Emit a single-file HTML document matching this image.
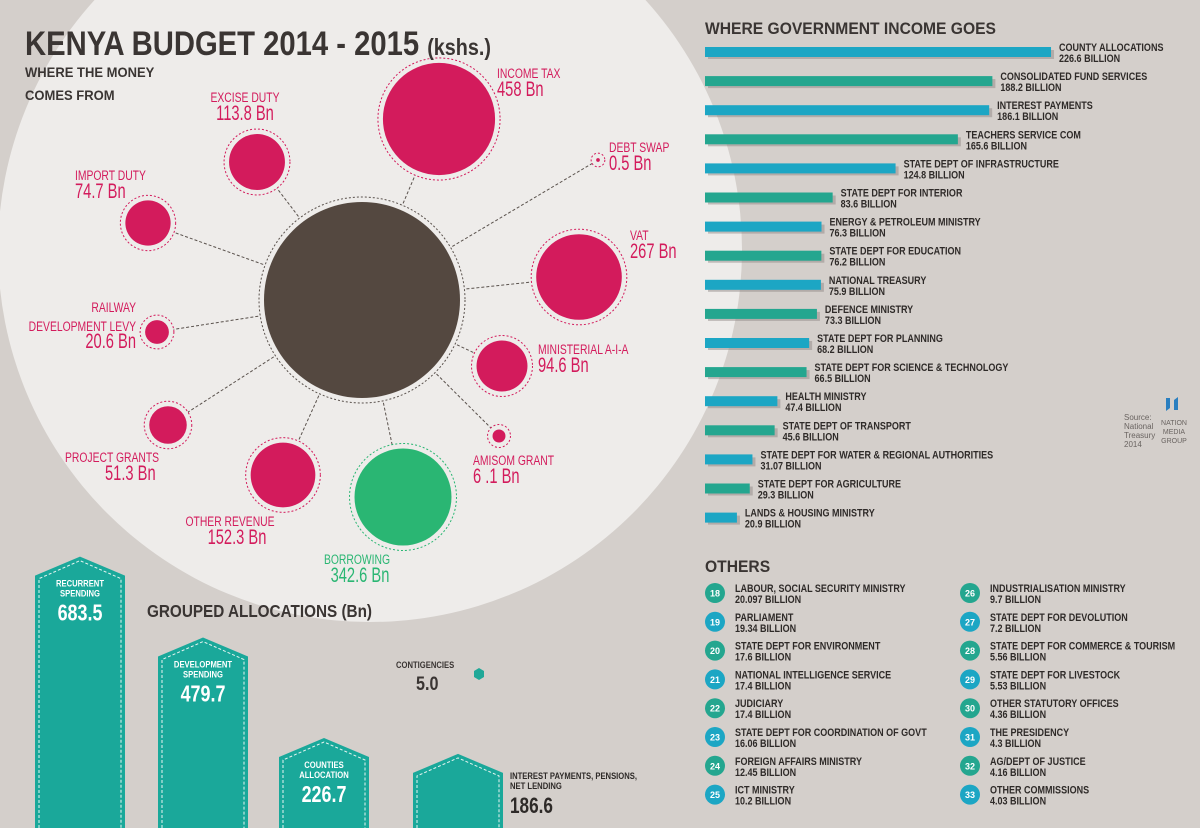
<!DOCTYPE html>
<html><head><meta charset="utf-8"><style>
html,body{margin:0;padding:0;background:#d4cfcb;}
svg{display:block;font-family:"Liberation Sans Narrow","Liberation Sans",sans-serif;}
.b{font-weight:bold;}
</style></head><body>
<svg id="chart" width="1200" height="828" viewBox="0 0 1200 828" xmlns="http://www.w3.org/2000/svg">
<rect x="0" y="0" width="1200" height="828" fill="#d4cfcb"/>
<circle cx="370" cy="250" r="372" fill="#eeecea"/>
<g id="lines"></g><g id="bubbles"></g>
<g transform="translate(25,55) scale(0.86,1)"><text x="0" y="0" class="b" font-size="34" fill="#3a3533">KENYA BUDGET 2014 - 2015 <tspan font-size="23">(kshs.)</tspan></text></g>
<g transform="translate(25,77) scale(0.93,1)"><text x="0" y="0" class="b" font-size="14" fill="#3a3533">WHERE THE MONEY</text></g>
<g transform="translate(25,100) scale(0.93,1)"><text x="0" y="0" class="b" font-size="14" fill="#3a3533">COMES FROM</text></g>
<g transform="translate(705,34) scale(0.92,1)"><text x="0" y="0" class="b" font-size="17" fill="#3a3533">WHERE GOVERNMENT INCOME GOES</text></g>
<g id="bars"></g>
<g transform="translate(705,572) scale(0.92,1)"><text x="0" y="0" class="b" font-size="17" fill="#3a3533">OTHERS</text></g>
<g id="others"></g>
<text font-size="8" fill="#6a6461"><tspan x="1124" y="420">Source:</tspan><tspan x="1124" y="429">National</tspan><tspan x="1124" y="438">Treasury</tspan><tspan x="1124" y="447">2014</tspan></text>
<g><path d="M1166 398 l4 0 l0 10 l-4 3z M1174 400 l4 -3 l0 13 l-4 0z" fill="#2a7fc0"/>
<text x="1174" y="425" font-size="7" fill="#6a6461" text-anchor="middle">NATION</text><text x="1174" y="434" font-size="7" fill="#6a6461" text-anchor="middle">MEDIA</text><text x="1174" y="443" font-size="7" fill="#6a6461" text-anchor="middle">GROUP</text></g>
<g transform="translate(147,617) scale(0.85,1)"><text x="0" y="0" class="b" font-size="18" fill="#3a3533">GROUPED ALLOCATIONS  (Bn)</text></g>
<g id="grouped"></g>
<g transform="translate(396,668) scale(0.85,1)"><text x="0" y="0" class="b" font-size="9" fill="#3a3533">CONTIGENCIES</text></g>
<g transform="translate(416,690) scale(0.85,1)"><text x="0" y="0" class="b" font-size="19" fill="#3a3533">5.0</text></g>
<polygon points="479,668 484,671 484,677 479,680 474,677 474,671" fill="#20a898"/>
</svg>
<script>
// Revenue sources (Bn)
const srcNames = ["INCOME TAX","EXCISE DUTY","IMPORT DUTY","RAILWAY DEVELOPMENT LEVY","PROJECT GRANTS","OTHER REVENUE","BORROWING","AMISOM GRANT","MINISTERIAL A-I-A","VAT","DEBT SWAP"];
const srcValues = [458,113.8,74.7,20.6,51.3,152.3,342.6,6.1,94.6,267,0.5];
const srcLabels = ["458 Bn","113.8 Bn","74.7 Bn","20.6 Bn","51.3 Bn","152.3 Bn","342.6 Bn","6 .1 Bn","94.6 Bn","267 Bn","0.5 Bn"];
// Spending bars (Bn)
const barNames = ["COUNTY ALLOCATIONS","CONSOLIDATED FUND SERVICES","INTEREST PAYMENTS","TEACHERS SERVICE COM","STATE DEPT OF INFRASTRUCTURE","STATE DEPT FOR INTERIOR","ENERGY & PETROLEUM MINISTRY","STATE DEPT FOR EDUCATION","NATIONAL TREASURY","DEFENCE MINISTRY","STATE DEPT FOR PLANNING","STATE DEPT FOR SCIENCE & TECHNOLOGY","HEALTH MINISTRY","STATE DEPT OF TRANSPORT","STATE DEPT FOR WATER & REGIONAL AUTHORITIES","STATE DEPT FOR AGRICULTURE","LANDS & HOUSING MINISTRY"];
const barValues = [226.6,188.2,186.1,165.6,124.8,83.6,76.3,76.2,75.9,73.3,68.2,66.5,47.4,45.6,31.07,29.3,20.9];
// Others list
const otherNames = ["LABOUR, SOCIAL SECURITY MINISTRY","PARLIAMENT","STATE DEPT FOR ENVIRONMENT","NATIONAL INTELLIGENCE SERVICE","JUDICIARY","STATE DEPT FOR COORDINATION OF GOVT","FOREIGN AFFAIRS MINISTRY","ICT MINISTRY","INDUSTRIALISATION MINISTRY","STATE DEPT FOR DEVOLUTION","STATE DEPT FOR COMMERCE & TOURISM","STATE DEPT FOR LIVESTOCK","OTHER STATUTORY OFFICES","THE PRESIDENCY","AG/DEPT OF JUSTICE","OTHER COMMISSIONS"];
const otherValues = ["20.097","19.34","17.6","17.4","17.4","16.06","12.45","10.2","9.7","7.2","5.56","5.53","4.36","4.3","4.16","4.03"];
// Grouped allocations (Bn)
const groupNames = [["RECURRENT","SPENDING"],["DEVELOPMENT","SPENDING"],["COUNTIES","ALLOCATION"],["INTEREST PAYMENTS, PENSIONS,","NET LENDING"]];
const groupValues = [683.5,479.7,226.7,186.6];

const NS="http://www.w3.org/2000/svg";
function mk(tag,attrs,parent,txt){const e=document.createElementNS(NS,tag);for(const k in attrs)e.setAttribute(k,attrs[k]);if(txt!==undefined)e.textContent=txt;parent.appendChild(e);return e;}
function tx(parent,x,y,s,size,fill,anchor,sx,bold){
  const g=mk('g',{transform:`translate(${x},${y}) scale(${sx},1)`},parent);
  const a={x:0,y:0,'font-size':size,fill:fill,'text-anchor':anchor||'start'};
  if(bold)a['font-weight']='bold';
  return mk('text',a,g,s);
}
const rScale=v=>2.62*Math.sqrt(v);

// layout (centres only)
const C={x:362,y:300,r:98};
const pos=[[439,119],[257,162],[148,223],[157,332],[168,425],[283,475],[403,497],[499,436],[502,366],[579,277],[598,160]];
const lab=[[497,78,"start"],[245,102,"middle"],[75,180,"start"],[136,312,"end"],[65,462,"start"],[230,526,"middle"],[357,564,"middle"],[473,465,"start"],[538,354,"start"],[630,240,"start"],[609,152,"start"]];
const gL=document.getElementById('lines'),gB=document.getElementById('bubbles');
srcValues.forEach((v,i)=>{
  const [x,y]=pos[i];
  const l=mk('line',{x1:C.x,y1:C.y,x2:x,y2:y,stroke:'#5a524d','stroke-width':1,'stroke-dasharray':'3 2'},gL);
  
  
});
const dk=mk('circle',{cx:C.x,cy:C.y,r:C.r+5,fill:'#eeecea',stroke:'#5a524d','stroke-dasharray':'2 2'},gB);


const dc=mk('circle',{cx:C.x,cy:C.y,r:C.r,fill:'#544840'},gB);


const LS=0.74, VS=0.7;
srcValues.forEach((v,i)=>{
  const [x,y]=pos[i];const r=rScale(v);const col=i===6?'#2ab673':'#d31b5c';
  const g=mk('g',{},gB);
  
  
  mk('circle',{cx:x,cy:y,r:r+5,fill:'#eeecea',stroke:col,'stroke-width':1,'stroke-dasharray':'2 2'},g);
  mk('circle',{cx:x,cy:y,r:r,fill:col},g);
  const [lx,ly,an]=lab[i];
  const t=mk('g',{},gB);
  
  
  if(i===3){
    tx(t,lx,ly,'RAILWAY',14,col,'end',LS);
    tx(t,lx,ly+19,'DEVELOPMENT LEVY',14,col,'end',LS);
    tx(t,lx,ly+36,srcLabels[i],21,col,'end',VS);
  } else {
    tx(t,lx,ly,srcNames[i],14,col,an,LS);
    tx(t,lx+(i===4?40:(i===6?3:(i===5?7:0))),ly+18,srcLabels[i],21,col,an,VS);
  }
});

// bars
const gBar=document.getElementById('bars');
const x0=705,kx=1.527;
barValues.forEach((v,i)=>{
  const cy=52+i*29.1,w=v*kx,col=i%2?'#24a68f':'#1ca6c4';
  const g=mk('g',{},gBar);
  
  
  mk('rect',{x:x0+3,y:cy-2,width:w,height:9,fill:'#8f8885',opacity:0.5},g);
  mk('rect',{x:x0,y:cy-5,width:w,height:10,fill:col},g);
  tx(g,x0+w+8,cy-1,barNames[i],11,'#2e2a28','start',0.82,true);
  tx(g,x0+w+8,cy+10,v+' BILLION',11,'#2e2a28','start',0.82,true);
});

// others
const gO=document.getElementById('others');
otherNames.forEach((n,i)=>{
  const col=i<8?0:1,row=i%8,cy=593+row*28.8;
  const cx=col?970:715,tX=col?990:735;
  const g=mk('g',{},gO);
  
  
  mk('circle',{cx:cx,cy:cy,r:10,fill:row%2?'#1ca6c4':'#24a68f'},g);
  mk('text',{x:cx,y:cy+3.5,'font-size':9,class:'b',fill:'#fff','text-anchor':'middle'},g,String(18+i));
  tx(g,tX,cy-1,n,11,'#2e2a28','start',0.82,true);
  tx(g,tX,cy+10,otherValues[i]+' BILLION',11,'#2e2a28','start',0.82,true);
});

// grouped allocations
const gG=document.getElementById('grouped');
const gx=[35,158,279,413],bw=90,base=828,ky=0.397;
groupValues.forEach((v,i)=>{
  const h=v*ky,top=base-h,x=gx[i];
  const g=mk('g',{},gG);
  
  
  mk('polygon',{points:`${x},${top+19} ${x+bw/2},${top} ${x+bw},${top+19} ${x+bw},${base} ${x},${base}`,fill:'#1aa89a'},g);
  mk('polyline',{points:`${x+4},${base} ${x+4},${top+22} ${x+bw/2},${top+4} ${x+bw-4},${top+22} ${x+bw-4},${base}`,fill:'none',stroke:'#e8f5f2','stroke-width':1,'stroke-dasharray':'3 2'},g);
  if(i<3){
    tx(g,x+bw/2,top+30,groupNames[i][0],9,'#fff','middle',0.85,true);
    tx(g,x+bw/2,top+40,groupNames[i][1],9,'#fff','middle',0.85,true);
    tx(g,x+bw/2,top+64,v.toFixed(1),23,'#fff','middle',0.78,true);
  } else {
    tx(g,x+97,top+25,groupNames[i][0],9,'#2e2a28','start',0.85,true);
    tx(g,x+97,top+35,groupNames[i][1],9,'#2e2a28','start',0.85,true);
    tx(g,x+97,top+59,v.toFixed(1),22,'#2e2a28','start',0.78,true);
  }
});
</script>
</body></html>
